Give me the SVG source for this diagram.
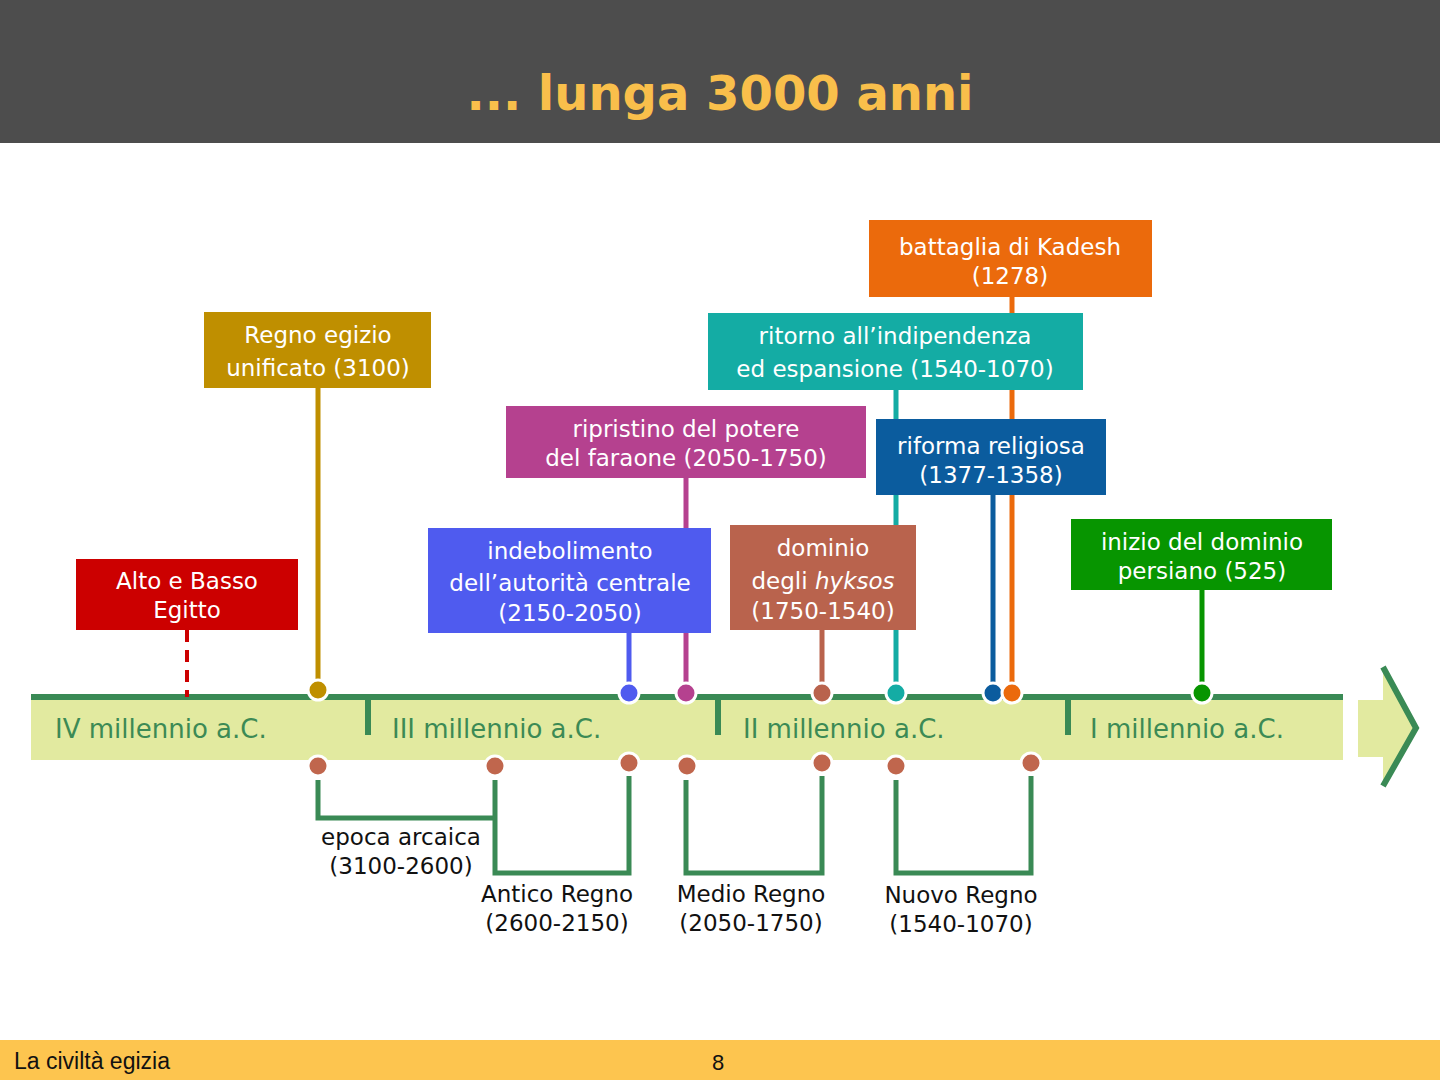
<svg xmlns="http://www.w3.org/2000/svg" width="1440" height="1080" viewBox="0 0 1440 1080">
<style>
.bt{font-family:"DejaVu Sans",Verdana,sans-serif;font-size:23px;fill:#fff;text-anchor:middle}
.lt{font-family:"DejaVu Sans",Verdana,sans-serif;font-size:23px;fill:#111;text-anchor:middle}
.mt{font-family:"DejaVu Sans",Verdana,sans-serif;font-size:26px;fill:#3c8a55}
.br{fill:none;stroke:#3a8a55;stroke-width:5}
.dot{stroke:#fff;stroke-width:3}
.bd{fill:#c0664d;stroke:#fff;stroke-width:3}
</style>
<rect width="1440" height="1080" fill="#fff"/>
<rect width="1440" height="143" fill="#4d4d4d"/>
<text x="720" y="110" text-anchor="middle" font-family="DejaVu Sans,Verdana,sans-serif" font-weight="bold" font-size="48" fill="#f9bf4b">... lunga 3000 anni</text>
<rect y="1040" width="1440" height="40" fill="#fdc54f"/>
<text x="14" y="1069" font-family="Liberation Sans,Arial,sans-serif" font-size="23" fill="#111">La civiltà egizia</text>
<text x="718" y="1070" text-anchor="middle" font-family="Liberation Sans,Arial,sans-serif" font-size="22" fill="#111">8</text>

<g id="timeline">
<rect x="31" y="697" width="1312" height="63" fill="#e2eaa0"/>
<polygon points="1358,700 1383,700 1383,672 1416,728 1383,784 1383,757 1358,757" fill="#e2eaa0"/>
<polyline points="1383,667 1416,728 1383,786" fill="none" stroke="#3a8a55" stroke-width="6"/>
<line x1="31" y1="697" x2="1343" y2="697" stroke="#3a8a55" stroke-width="6"/>
<g stroke="#3a8a55" stroke-width="6"><line x1="368" y1="697" x2="368" y2="735"/><line x1="718" y1="697" x2="718" y2="735"/><line x1="1068" y1="697" x2="1068" y2="735"/></g>
<text class="mt" x="55" y="738">IV millennio a.C.</text>
<text class="mt" x="392" y="738">III millennio a.C.</text>
<text class="mt" x="743" y="738">II millennio a.C.</text>
<text class="mt" x="1090" y="738">I millennio a.C.</text>
</g>

<g id="connectors">
<line x1="187" y1="630" x2="187" y2="697" stroke="#cc0000" stroke-width="4" stroke-dasharray="12,8"/>
<line x1="318" y1="388" x2="318" y2="690" stroke="#bf8f00" stroke-width="5"/>
<line x1="629" y1="633" x2="629" y2="693" stroke="#4f5bef" stroke-width="5"/>
<line x1="686" y1="478" x2="686" y2="693" stroke="#b5418f" stroke-width="5"/>
<line x1="822" y1="630" x2="822" y2="693" stroke="#b9634d" stroke-width="5"/>
<line x1="896" y1="390" x2="896" y2="693" stroke="#14aca4" stroke-width="5"/>
<line x1="1012" y1="297" x2="1012" y2="693" stroke="#eb6a0c" stroke-width="5"/>
<line x1="993" y1="495" x2="993" y2="693" stroke="#0b5c9e" stroke-width="5"/>
<line x1="1202" y1="590" x2="1202" y2="693" stroke="#079500" stroke-width="5"/>
<polyline class="br" points="318,780 318,818 495,818"/>
<polyline class="br" points="495,780 495,873 629,873 629,776"/>
<polyline class="br" points="686,780 686,873 822,873 822,776"/>
<polyline class="br" points="896,780 896,873 1031,873 1031,776"/>
</g>

<g id="dots">
<circle class="dot" cx="318" cy="690" r="10" fill="#bf8f00"/>
<circle class="dot" cx="629" cy="693" r="10" fill="#4f5bef"/>
<circle class="dot" cx="686" cy="693" r="10" fill="#b5418f"/>
<circle class="dot" cx="822" cy="693" r="10" fill="#b9634d"/>
<circle class="dot" cx="896" cy="693" r="10" fill="#14aca4"/>
<circle class="dot" cx="993" cy="693" r="10" fill="#0b5c9e"/>
<circle class="dot" cx="1012" cy="693" r="10" fill="#eb6a0c"/>
<circle class="dot" cx="1202" cy="693" r="10" fill="#079500"/>
<circle class="bd" cx="318" cy="766" r="10"/>
<circle class="bd" cx="495" cy="766" r="10"/>
<circle class="bd" cx="629" cy="763" r="10"/>
<circle class="bd" cx="687" cy="766" r="10"/>
<circle class="bd" cx="822" cy="763" r="10"/>
<circle class="bd" cx="896" cy="766" r="10"/>
<circle class="bd" cx="1031" cy="763" r="10"/>
</g>

<g id="n-alto"><rect x="76" y="559" width="222" height="71" fill="#cc0000"/><text class="bt" x="187" y="589">Alto e Basso</text><text class="bt" x="187" y="618">Egitto</text></g>
<g id="n-regno"><rect x="204" y="312" width="227" height="76" fill="#bf8f00"/><text class="bt" x="318" y="343">Regno egizio</text><text class="bt" x="318" y="376">unificato (3100)</text></g>
<g id="n-indeb"><rect x="428" y="528" width="283" height="105" fill="#4f5bef"/><text class="bt" x="570" y="559">indebolimento</text><text class="bt" x="570" y="591">dell’autorità centrale</text><text class="bt" x="570" y="621">(2150-2050)</text></g>
<g id="n-ripr"><rect x="506" y="406" width="360" height="72" fill="#b5418f"/><text class="bt" x="686" y="437">ripristino del potere</text><text class="bt" x="686" y="466">del faraone (2050-1750)</text></g>
<g id="n-hyk"><rect x="730" y="525" width="186" height="105" fill="#b9634d"/><text class="bt" x="823" y="556">dominio</text><text class="bt" x="823" y="589">degli <tspan font-style="italic">hyksos</tspan></text><text class="bt" x="823" y="619">(1750-1540)</text></g>
<g id="n-ritorno"><rect x="708" y="313" width="375" height="77" fill="#14aca4"/><text class="bt" x="895" y="344">ritorno all’indipendenza</text><text class="bt" x="895" y="377">ed espansione (1540-1070)</text></g>
<g id="n-kadesh"><rect x="869" y="220" width="283" height="77" fill="#eb6a0c"/><text class="bt" x="1010" y="255">battaglia di Kadesh</text><text class="bt" x="1010" y="284">(1278)</text></g>
<g id="n-riforma"><rect x="876" y="419" width="230" height="76" fill="#0b5c9e"/><text class="bt" x="991" y="454">riforma religiosa</text><text class="bt" x="991" y="483">(1377-1358)</text></g>
<g id="n-pers"><rect x="1071" y="519" width="261" height="71" fill="#079500"/><text class="bt" x="1202" y="550">inizio del dominio</text><text class="bt" x="1202" y="579">persiano (525)</text></g>

<g id="labels">
<text class="lt" x="401" y="845">epoca arcaica</text><text class="lt" x="401" y="874">(3100-2600)</text>
<text class="lt" x="557" y="902">Antico Regno</text><text class="lt" x="557" y="931">(2600-2150)</text>
<text class="lt" x="751" y="902">Medio Regno</text><text class="lt" x="751" y="931">(2050-1750)</text>
<text class="lt" x="961" y="903">Nuovo Regno</text><text class="lt" x="961" y="932">(1540-1070)</text>
</g>
</svg>
